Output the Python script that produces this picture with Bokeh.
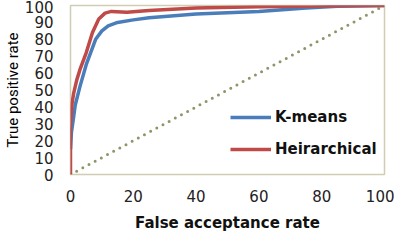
from bokeh.plotting import figure
from bokeh.models import Range1d, FixedTicker, Legend, LegendItem
from bokeh.embed import file_html
from bokeh.resources import INLINE

# Data
kmeans_x = [0, 0.3, 1, 1.5, 3, 5, 8, 10, 12, 15, 20, 25, 40, 60, 75, 85, 100]
kmeans_y = [15, 25, 34, 41, 52, 65, 80, 85, 88, 90, 91.5, 92.7, 95, 96.5, 98.5, 99.5, 100]
hier_x = [0, 0, 0.5, 1, 2, 3, 5, 7, 9, 11, 13, 18, 25, 40, 60, 80, 100]
hier_y = [0, 30, 42, 48, 56, 62, 72, 84, 92, 95.5, 96.5, 96, 97, 98.5, 99.3, 99.7, 100]
diag_x = [0, 100]
diag_y = [0, 100]
x_ticks = [0, 20, 40, 60, 80, 100]
y_ticks = [0, 10, 20, 30, 40, 50, 60, 70, 80, 90, 100]
series_names = ["K-means", "Heirarchical"]

p = figure(width=394, height=234, output_backend="svg", toolbar_location=None,
           x_range=Range1d(0, 100), y_range=Range1d(0, 100),
           min_border_left=59, min_border_right=10, min_border_top=5, min_border_bottom=57)

p.xgrid.visible = False
p.ygrid.visible = False
p.outline_line_color = "#CFCDB4"
p.outline_line_width = 1.5

diag = p.line(diag_x, diag_y, line_color="#8A9868", line_width=3, line_dash="0 7", line_cap="round")
km = p.line(kmeans_x, kmeans_y, line_color="#4A7EBB", line_width=3.5, line_join="round")
hr = p.line(hier_x, hier_y, line_color="#BE4B48", line_width=3.5, line_join="round")

for ax in (p.xaxis[0], p.yaxis[0]):
    ax.axis_line_color = None
    ax.major_tick_line_color = None
    ax.minor_tick_line_color = None
    ax.major_tick_out = 0
    ax.major_tick_in = 0
    ax.major_label_text_font = "DejaVu Sans"
    ax.major_label_text_font_size = "15px"
    ax.major_label_text_color = "#222222"

p.xaxis.ticker = FixedTicker(ticks=x_ticks)
p.yaxis.ticker = FixedTicker(ticks=y_ticks)
p.xaxis.major_label_standoff = 15
p.yaxis.major_label_standoff = 17

p.xaxis.axis_label = "False acceptance rate"
p.xaxis.axis_label_text_font = "DejaVu Sans"
p.xaxis.axis_label_text_font_style = "bold"
p.xaxis.axis_label_text_font_size = "15px"
p.xaxis.axis_label_standoff = 9
p.xaxis.axis_label_text_color = "#111111"

p.yaxis.axis_label = "True positive rate"
p.yaxis.axis_label_text_font = "Roboto"
p.yaxis.axis_label_text_font_style = "normal"
p.yaxis.axis_label_text_font_size = "15px"
p.yaxis.axis_label_standoff = 0
p.yaxis.axis_label_text_color = "#000000"

legend = Legend(items=[LegendItem(label=series_names[0], renderers=[km]),
                       LegendItem(label=series_names[1], renderers=[hr])],
                location=(160, 15), orientation="vertical",
                border_line_color=None, background_fill_alpha=0,
                glyph_width=41, glyph_height=20, label_height=20, spacing=12,
                label_standoff=4, padding=0, margin=0,
                label_text_font="DejaVu Sans", label_text_font_style="bold",
                label_text_font_size="15px", label_text_color="#111111")
p.add_layout(legend, "center")

open("out.html", "w").write(file_html(p, INLINE))
